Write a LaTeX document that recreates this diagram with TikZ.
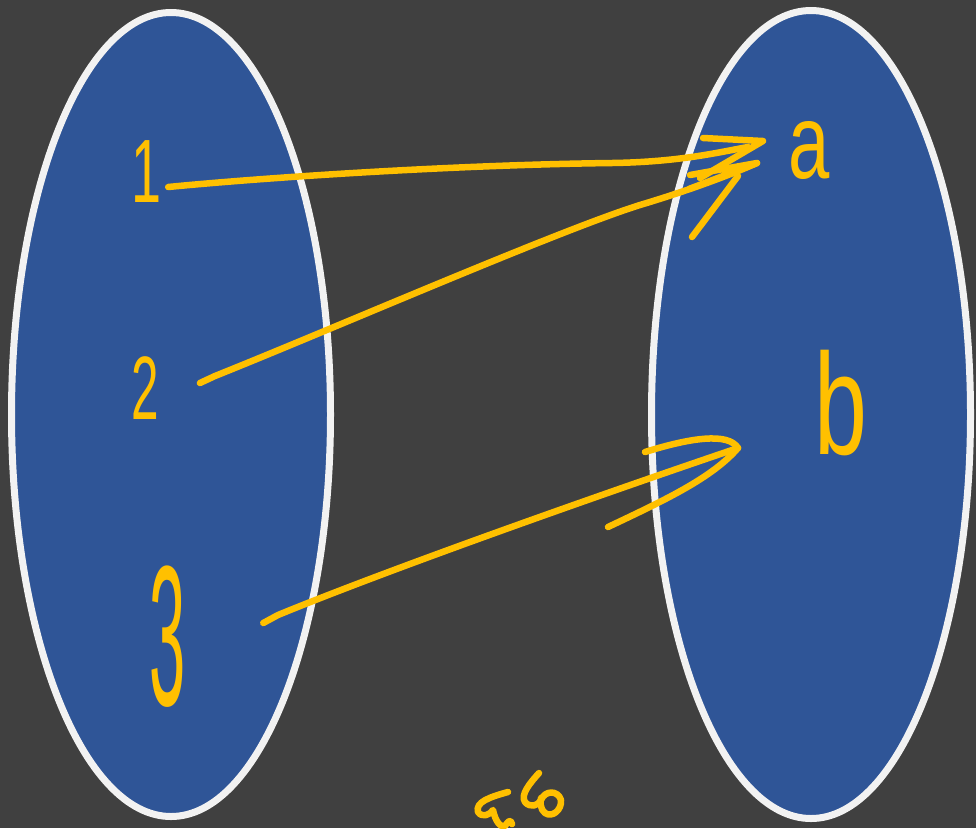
\documentclass[tikz,border=0pt]{standalone}
\usepackage{fontspec}
\setmainfont{Liberation Sans}
\definecolor{bg}{HTML}{404040}
\definecolor{setblue}{HTML}{2F5597}
\definecolor{rim}{HTML}{F2F2F2}
\definecolor{ink}{HTML}{FFC000}
\begin{document}
\begin{tikzpicture}[x=1pt,y=-1pt,
  conn/.style={draw=ink,line width=6.5pt,line cap=round,line join=round},
  lbl/.style={text=ink,inner sep=0pt},
  setshape/.style={draw=rim,fill=setblue,line width=7pt}]
\fill[bg] (0,0) rectangle (976,828);
\useasboundingbox (0,0) rectangle (976,828);
% the two sets
\draw[setshape] (171,414.5) ellipse [x radius=159.5, y radius=402];
\draw[setshape] (811,414.5) ellipse [x radius=159.5, y radius=404];
% labels
\node[lbl,font=\fontsize{90}{90}\selectfont] (n1) at (147,172) {\scalebox{0.6}[1]{1}};
\node[lbl,font=\fontsize{90}{90}\selectfont] (n2) at (145,388) {\scalebox{0.55}[1]{2}};
\node[lbl,font=\fontsize{100}{100}\selectfont] (n3) at (168,637) {\scalebox{0.65}[2]{3}};
\node[lbl,font=\fontsize{106}{106}\selectfont] (na) at (809,150) {\scalebox{0.7}[1]{a}};
\node[lbl,font=\fontsize{144}{144}\selectfont] (nb) at (841,403) {\scalebox{0.66}[1]{b}};
% arrow tips
\coordinate (tA1) at (748,147);
\coordinate (tA2) at (757,163);
\coordinate (tB) at (738,448);
% 1 -> a
\draw[conn] ([shift={(6,15)}]n1.east) .. controls (260,178) and (450,165) .. (612,163)
  .. controls (680,162) and (720,152) .. (tA1);
\draw[conn] (703,138) -- (763,141) -- (700,178);
% 2 -> a
\draw[conn] ([shift={(41,-5)}]n2.east) -- (215,376) .. controls (330,330) and (560,230) .. (640,205)
  .. controls (690,190) and (730,175) .. (tA2);
\draw[conn] (690,175) -- (tA2) -- (689,189);
\draw[conn] (738,176) -- (692,237);
% 3 -> b
\draw[conn] ([shift={(77,-14)}]n3.east) -- (278,615) .. controls (400,565) and (620,488) .. (tB);
\draw[conn] (645,452) .. controls (690,438) and (728,432) .. (tB);
\draw[conn] (608,527) .. controls (665,500) and (712,478) .. (tB);
% scribble at the bottom
\draw[conn] (508,792) .. controls (490,797) and (475,802) .. (478,812)
  .. controls (482,818) and (490,815) .. (493,810)
  .. controls (495,820) and (500,828) .. (505,826)
  .. controls (508,822) and (510,818) .. (512,824);
\draw[conn] (539,773) .. controls (530,783) and (520,795) .. (525,802)
  .. controls (530,808) and (538,806) .. (541,800)
  .. controls (545,790) and (558,790) .. (561,800)
  .. controls (562,810) and (552,818) .. (545,813)
  .. controls (540,810) and (540,800) .. (541,798);
\end{tikzpicture}
\end{document}
